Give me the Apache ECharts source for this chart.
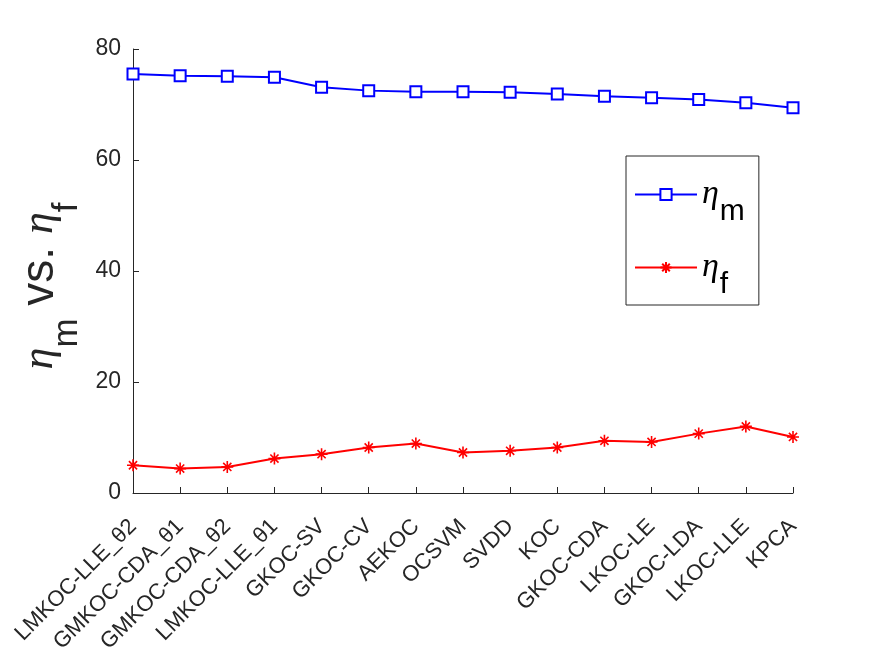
<!DOCTYPE html>
<html>
<head>
<meta charset="utf-8">
<script src="https://cdn.jsdelivr.net/npm/echarts@6/dist/echarts.min.js"></script>
<style>
  html, body { margin: 0; padding: 0; background: #fff; }
  #chart { width: 875px; height: 657px; }
</style>
</head>
<body>
<div id="chart"></div>
<script>
// methods along the x axis
const methods = ['LMKOC-LLE_θ2', 'GMKOC-CDA_θ1', 'GMKOC-CDA_θ2', 'LMKOC-LLE_θ1', 'GKOC-SV', 'GKOC-CV',
    'AEKOC', 'OCSVM', 'SVDD', 'KOC', 'GKOC-CDA', 'LKOC-LE', 'GKOC-LDA', 'LKOC-LLE', 'KPCA'];
// eta_m (blue squares) and eta_f (red asterisks)
const etaM = [75.5, 75.2, 75.1, 74.9, 73.1, 72.5, 72.3, 72.3, 72.2, 71.9, 71.5, 71.2, 70.9, 70.3, 69.4];
const etaF = [5.0, 4.4, 4.7, 6.2, 7.0, 8.2, 8.9, 7.3, 7.6, 8.2, 9.4, 9.2, 10.7, 12.0, 10.1];
const yTicks = { min: 0, max: 80, interval: 20 };

const axisColor = '#262626';
const font = 'Liberation Sans, Arial, Helvetica, sans-serif';
const asterisk = 'path://M5 0 L5 10 M0 5 L10 5 M1.6 1.6 L8.4 8.4 M8.4 1.6 L1.6 8.4';

const chart = echarts.init(document.getElementById('chart'), null, { renderer: 'canvas' });

chart.setOption({
    backgroundColor: '#fff',
    animation: false,
    grid: { left: 133, right: 82, top: 49, bottom: 164, containLabel: false, outerBoundsMode: 'none' },
    legend: {
        orient: 'vertical',
        left: 626,
        top: 156,
        padding: [6, 14, 5, 8],
        itemGap: 8,
        itemWidth: 62,
        itemHeight: 14,
        backgroundColor: '#fff',
        borderColor: axisColor,
        borderWidth: 1,
        borderRadius: 0,
        data: ['m', 'f'],
        formatter: n => '{eta|η}{sub|' + n + '}',
        textStyle: {
            rich: {
                eta: { fontSize: 34, fontFamily: 'Liberation Serif, serif', fontStyle: 'italic', color: '#000', lineHeight: 40 },
                sub: { fontSize: 30, fontFamily: font, color: '#000', lineHeight: 30, padding: [35, 0, 0, 1] }
            }
        }
    },
    xAxis: {
        type: 'category',
        data: methods,
        boundaryGap: false,
        axisLine: { lineStyle: { color: axisColor, width: 1 } },
        axisTick: { inside: true, length: 6, lineStyle: { color: axisColor } },
        axisLabel: { rotate: 45, interval: 0, margin: 30, fontSize: 22, fontFamily: font, color: axisColor },
        splitLine: { show: false }
    },
    yAxis: {
        type: 'value',
        min: yTicks.min,
        max: yTicks.max,
        interval: yTicks.interval,
        name: '{eta|η}{sub|m}{t| vs. }{eta|η}{sub|f}',
        nameLocation: 'middle',
        nameRotate: 90,
        nameGap: 48,
        nameTextStyle: {
            padding: [0, 30, 0, 0],
            rich: {
                eta: { fontSize: 44, fontFamily: 'Liberation Serif, serif', fontStyle: 'italic', color: axisColor },
                t: { fontSize: 46, fontFamily: font, color: axisColor },
                sub: { fontSize: 35, fontFamily: font, color: axisColor, lineHeight: 35, padding: [54, 0, 0, 0] }
            }
        },
        axisLine: { show: true, lineStyle: { color: axisColor, width: 1 } },
        axisTick: { show: true, inside: true, length: 6, lineStyle: { color: axisColor } },
        axisLabel: { fontSize: 23, fontFamily: font, color: axisColor, margin: 12 },
        splitLine: { show: false }
    },
    series: [
        {
            name: 'm',
            type: 'line',
            data: etaM,
            symbol: 'emptyRect',
            symbolSize: 11,
            lineStyle: { color: '#0000ff', width: 2 },
            itemStyle: { color: '#0000ff', borderColor: '#0000ff', borderWidth: 1.8 }
        },
        {
            name: 'f',
            type: 'line',
            data: etaF,
            symbol: asterisk,
            symbolSize: 12,
            lineStyle: { color: '#ff0000', width: 2 },
            itemStyle: { color: '#ff0000', borderColor: '#ff0000', borderWidth: 1.6 }
        }
    ]
});
</script>
</body>
</html>
